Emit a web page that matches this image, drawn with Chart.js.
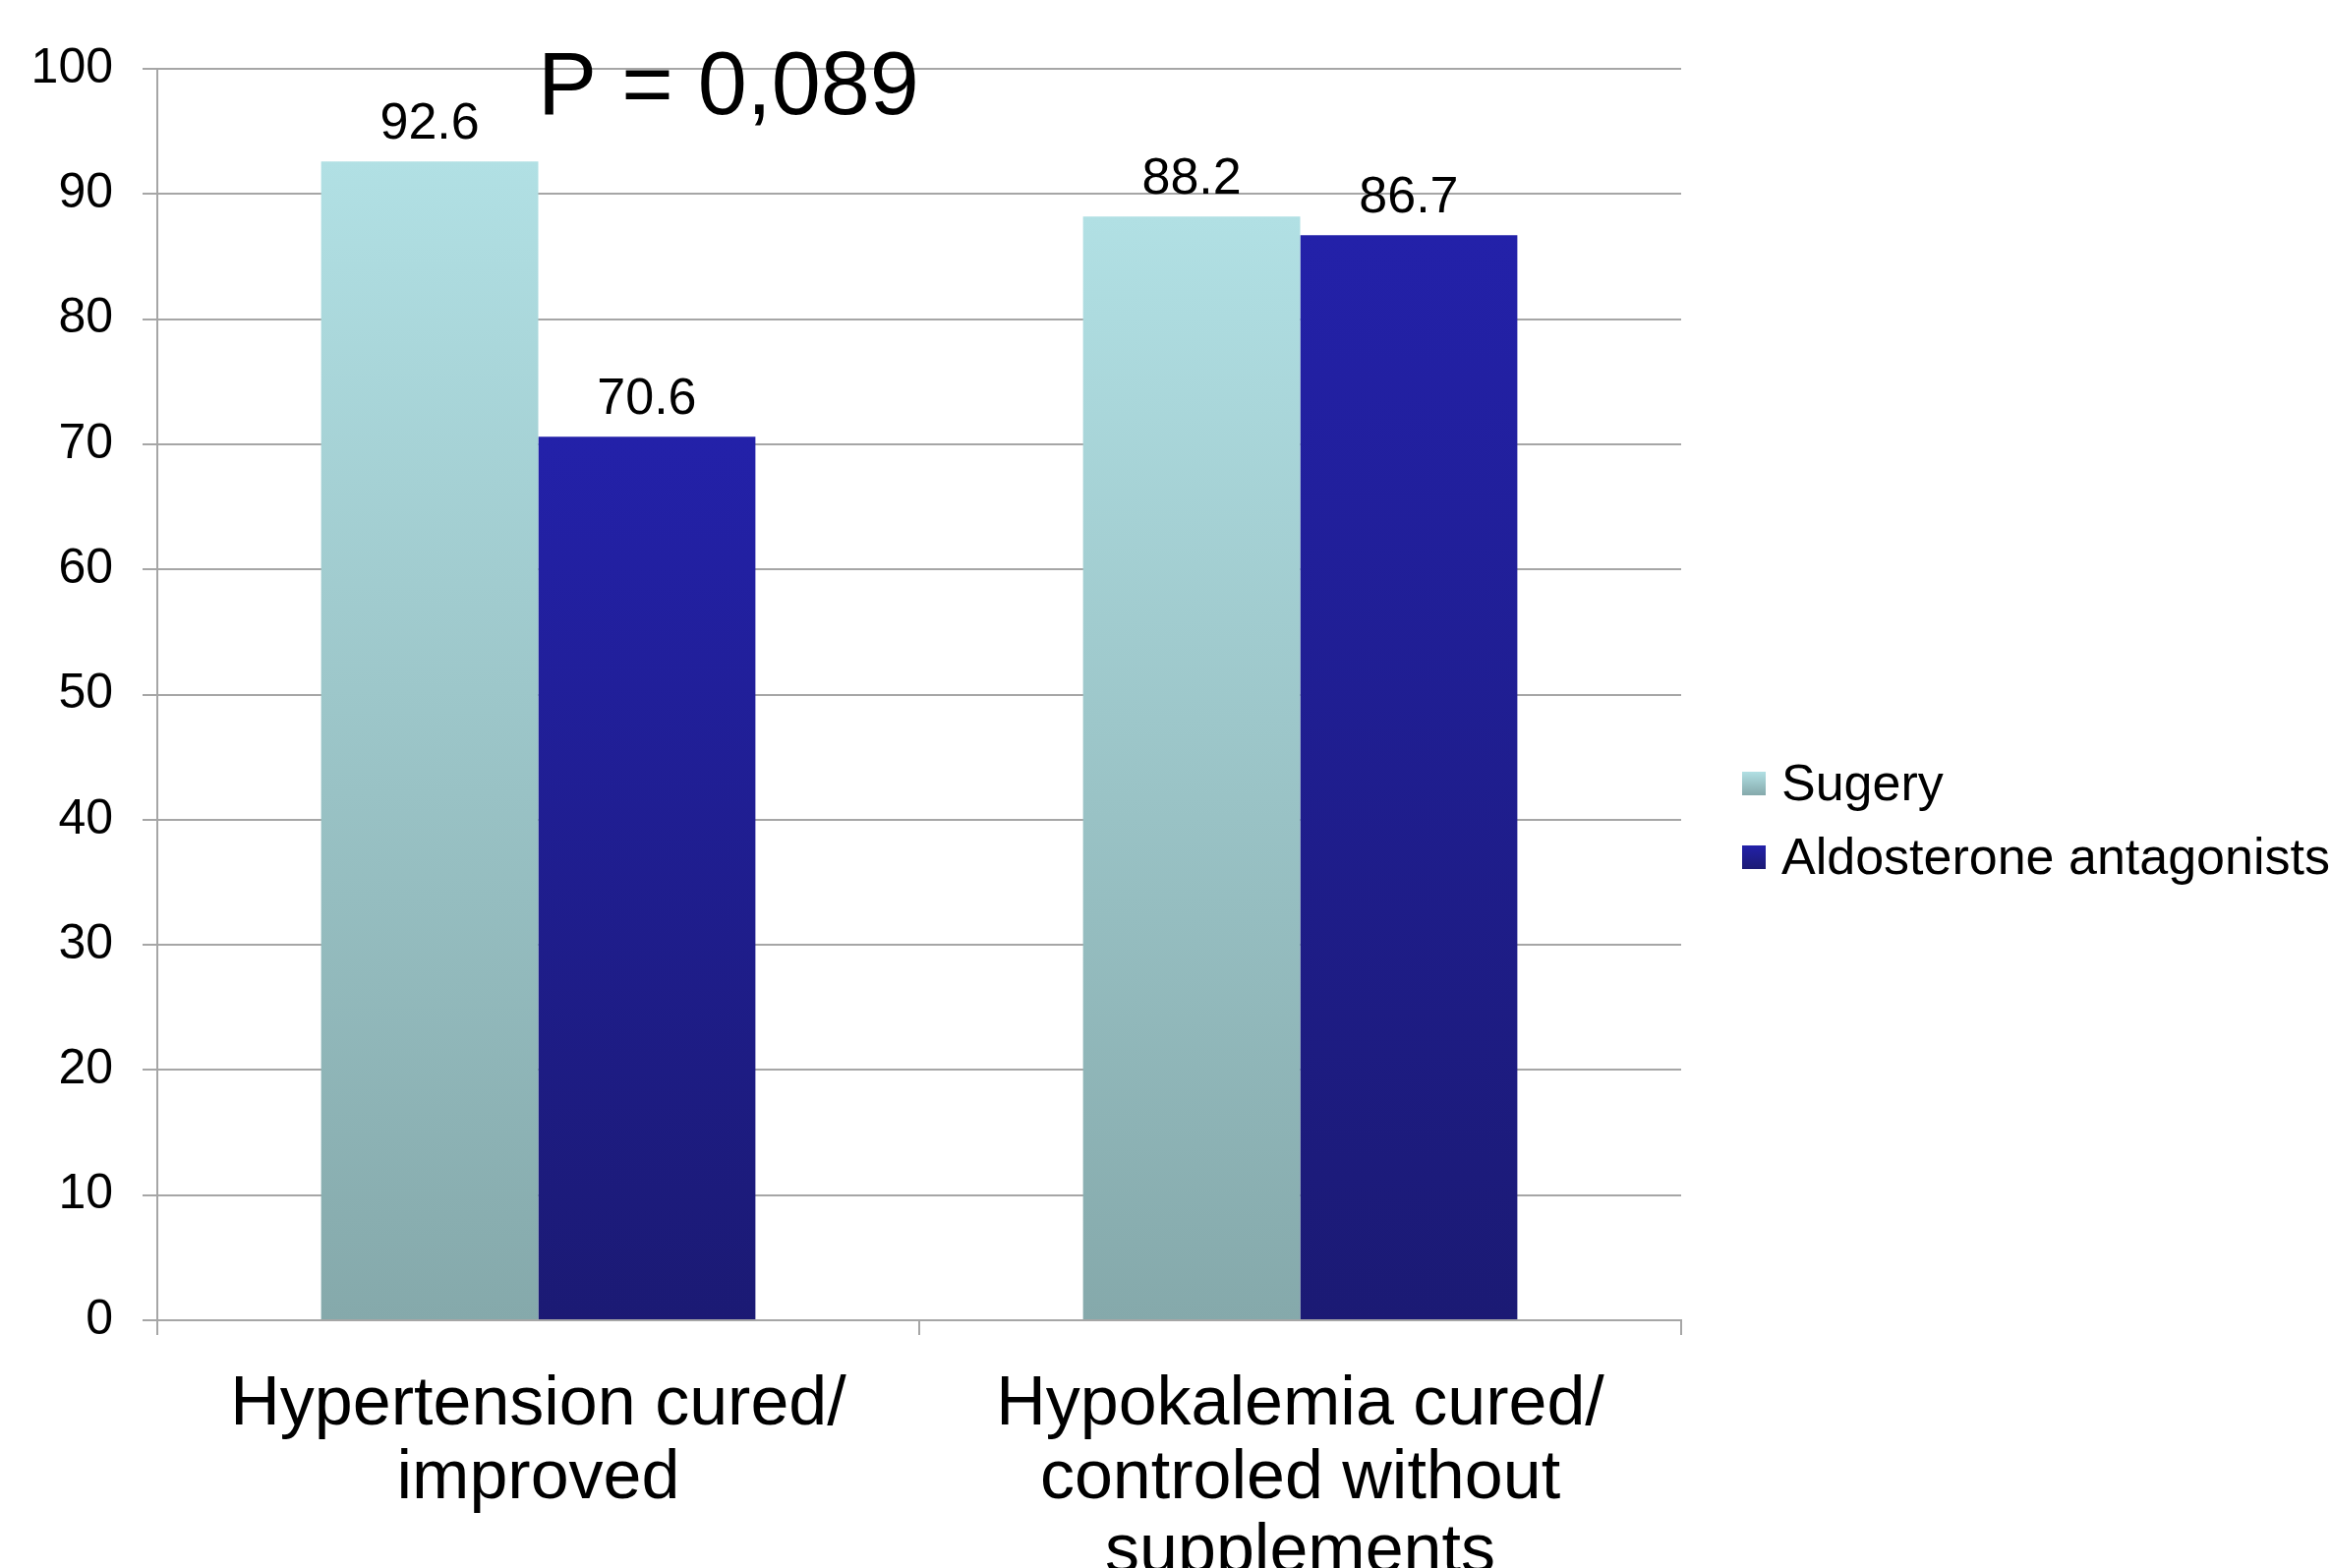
<!DOCTYPE html>
<html>
<head>
<meta charset="utf-8">
<script src="https://cdn.jsdelivr.net/npm/chart.js@4/dist/chart.umd.min.js"></script>
<style>
  html, body { margin: 0; padding: 0; background: #ffffff; }
  #wrap { width: 2371px; height: 1595px; }
</style>
</head>
<body>
<div id="wrap"><canvas id="c" width="2371" height="1595"></canvas></div>
<script>
// Outcome categories (multi-line axis labels)
const categories = [
  ["Hypertension cured/", "improved"],
  ["Hypokalemia cured/", "controled without", "supplements"]
];
// Series
const seriesNames = ["Sugery", "Aldosterone antagonists"];
const surgeryValues = [92.6, 88.2];
const antagonistValues = [70.6, 86.7];
// Y axis ticks
const yTicks = [0, 10, 20, 30, 40, 50, 60, 70, 80, 90, 100];
// Significance note
const pValueText = "P = 0,089";

const FONT = "'Liberation Sans', Arial, Helvetica, sans-serif";
const GRID = "#a6a6a6";
const seriesColors = [
  { top: "#b1e0e4", bottom: "#85a9ab" },
  { top: "#2321a9", bottom: "#1b1a74" }
];

// Vertical gradient running from each bar's top down to the baseline
function barGradient(colors) {
  return (ctx) => {
    const chart = ctx.chart;
    if (!chart.chartArea || ctx.type !== "data") return colors.bottom;
    const y = chart.scales.y;
    const yTop = y.getPixelForValue(ctx.raw);
    const yBase = y.getPixelForValue(0);
    const g = chart.ctx.createLinearGradient(0, yTop, 0, yBase);
    g.addColorStop(0, colors.top);
    g.addColorStop(1, colors.bottom);
    return g;
  };
}

// Value labels above the bars, the P-value note and the side legend
const decorations = {
  id: "decorations",
  afterDatasetsDraw(chart) {
    const c = chart.ctx;
    c.save();
    c.fillStyle = "#000";
    c.textAlign = "center";
    c.textBaseline = "middle";
    c.font = "52px " + FONT;
    chart.data.datasets.forEach((ds, di) => {
      const meta = chart.getDatasetMeta(di);
      meta.data.forEach((el, i) => {
        c.fillText(ds.data[i].toFixed(1), el.x, el.y - 38);
      });
    });

    c.font = "90px " + FONT;
    c.fillText(pValueText, 741, 91);

    // legend
    const boxX = 1772, boxSize = 24, textX = 1812;
    const rows = [797, 872];
    c.textAlign = "left";
    c.font = "52px " + FONT;
    chart.data.datasets.forEach((ds, di) => {
      const cy = rows[di];
      const g = c.createLinearGradient(0, cy - boxSize / 2, 0, cy + boxSize / 2);
      g.addColorStop(0, seriesColors[di].top);
      g.addColorStop(1, seriesColors[di].bottom);
      c.fillStyle = g;
      c.fillRect(boxX, cy - boxSize / 2, boxSize, boxSize);
      c.fillStyle = "#000";
      c.fillText(ds.label, textX, cy + 3);
    });
    c.restore();
  }
};

Chart.defaults.font.family = FONT;

new Chart(document.getElementById("c"), {
  type: "bar",
  data: {
    labels: categories,
    datasets: [
      { label: seriesNames[0], data: surgeryValues, backgroundColor: barGradient(seriesColors[0]) },
      { label: seriesNames[1], data: antagonistValues, backgroundColor: barGradient(seriesColors[1]) }
    ]
  },
  options: {
    responsive: false,
    animation: false,
    devicePixelRatio: 1,
    layout: { padding: { top: 70, right: 661, left: 0, bottom: 0 } },
    datasets: { bar: { categoryPercentage: 0.57, barPercentage: 1.0, borderWidth: 0 } },
    plugins: { legend: { display: false }, tooltip: { enabled: false } },
    scales: {
      x: {
        grid: { display: true, drawOnChartArea: false, offset: true, color: GRID, lineWidth: 2, tickLength: 15 },
        border: { color: GRID, width: 2 },
        ticks: {
          color: "#000",
          font: { size: 70, lineHeight: 75 / 70 },
          padding: 34,
          maxRotation: 0,
          autoSkip: false
        },
        afterFit: (s) => { s.height = 252; }
      },
      y: {
        min: 0,
        max: 100,
        afterBuildTicks: (s) => { s.ticks = yTicks.map((v) => ({ value: v })); },
        grid: { color: GRID, lineWidth: 2, tickLength: 15 },
        border: { color: GRID, width: 2 },
        ticks: { color: "#000", font: { size: 50 }, padding: 30 },
        afterFit: (s) => { s.width = 160; }
      }
    }
  },
  plugins: [decorations]
});
</script>
</body>
</html>
